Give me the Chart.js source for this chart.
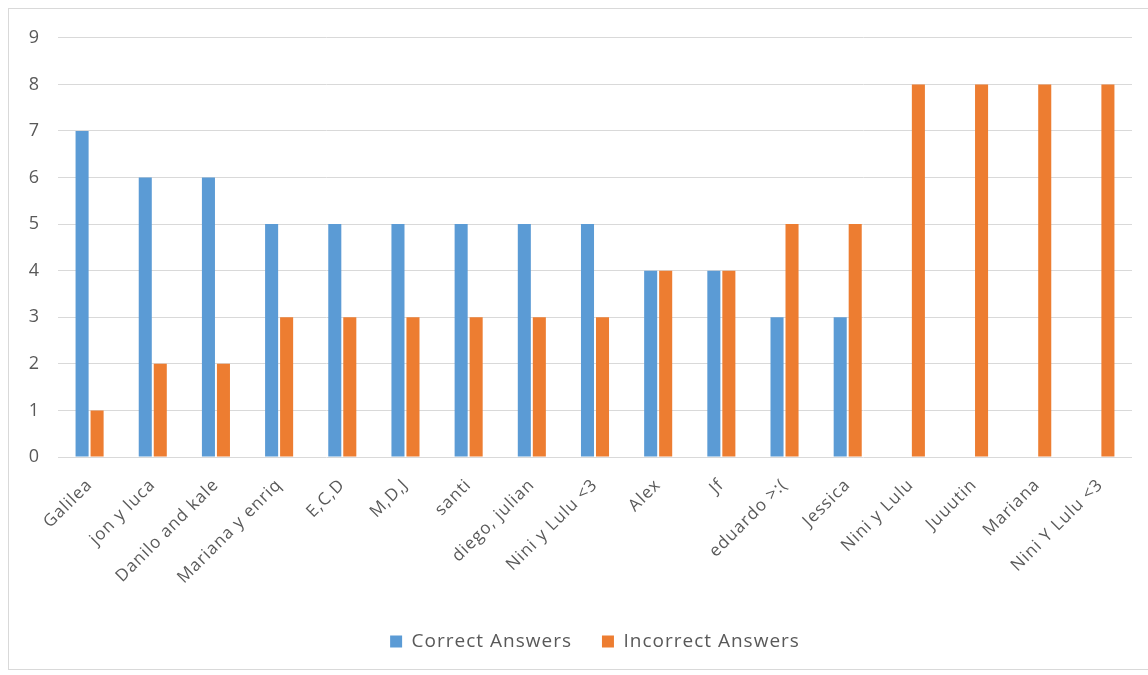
<!DOCTYPE html>
<html>
<head>
<meta charset="utf-8">
<script src="https://cdn.jsdelivr.net/npm/chart.js@4"></script>
<style>
  html, body { margin: 0; padding: 0; background: #fff; overflow: hidden; }
  .frame {
    position: absolute; left: 8px; top: 8px;
    width: 1160px; height: 662px;
    border: 1px solid #d9d9d9; box-sizing: border-box;
  }
  .wrap { position: absolute; left: 0; top: 0; width: 1139px; height: 660px; }
</style>
</head>
<body>
<div class="frame"><div class="wrap"><canvas id="answers"></canvas></div></div>
<script>
// Quiz results per team
const teams = [
  'Galilea', 'jon y luca', 'Danilo and kale', 'Mariana y enriq', 'E,C,D', 'M,D,J',
  'santi', 'diego, julian', 'Nini y Lulu <3', 'Alex', 'Jf', 'eduardo >:(',
  'Jessica', 'Nini y Lulu', 'Juuutin', 'Mariana', 'Nini Y Lulu <3'
];
const correctAnswers   = [7, 6, 6, 5, 5, 5, 5, 5, 5, 4, 4, 3, 3, 0, 0, 0, 0];
const incorrectAnswers = [1, 2, 2, 3, 3, 3, 3, 3, 3, 4, 4, 5, 5, 8, 8, 8, 8];
const yTicks = [0, 1, 2, 3, 4, 5, 6, 7, 8, 9];

const FONT = '"Open Sans", "Noto Sans", sans-serif';
const GREY = '#595959';

// slightly spaced-out lettering; canvas resizes reset ctx state, so set it each pass
const spacing = {
  id: 'spacing',
  beforeUpdate(chart) { chart.ctx.letterSpacing = '1px'; },
  beforeDraw(chart)   { chart.ctx.letterSpacing = '1px'; },
};

new Chart(document.getElementById('answers'), {
  type: 'bar',
  plugins: [spacing],
  data: {
    labels: teams,
    datasets: [
      { label: 'Correct Answers',   data: correctAnswers,   backgroundColor: '#5b9bd5',
        categoryPercentage: 0.475, barPercentage: 0.87 },
      { label: 'Incorrect Answers', data: incorrectAnswers, backgroundColor: '#ed7d31',
        categoryPercentage: 0.475, barPercentage: 0.87 },
    ],
  },
  options: {
    responsive: true, maintainAspectRatio: false, animation: false,
    layout: { padding: { top: 28, right: 16, bottom: 8, left: 0 } },
    plugins: {
      tooltip: { enabled: false },
      legend: {
        position: 'bottom',
        fullSize: false,   // centre under the plot area, not the whole canvas
        labels: {
          color: GREY, font: { family: FONT, size: 19 },
          boxWidth: 12, boxHeight: 12, padding: 30,
        },
      },
    },
    scales: {
      x: {
        grid: { display: false },
        border: { display: false },
        ticks: {
          color: GREY, font: { family: FONT, size: 17 },
          minRotation: 45, maxRotation: 45, autoSkip: false, padding: 10,
        },
        afterFit: s => { s.height = 145; },
      },
      y: {
        min: 0, max: 9,
        afterBuildTicks: s => { s.ticks = yTicks.map(v => ({ value: v })); },
        grid: { color: '#d9d9d9', lineWidth: 1, drawTicks: false },
        border: { display: false },
        ticks: { color: GREY, font: { family: FONT, size: 18 }, padding: 18 },
        afterFit: s => { s.width = 49; },
      },
    },
  },
});
</script>
</body>
</html>
